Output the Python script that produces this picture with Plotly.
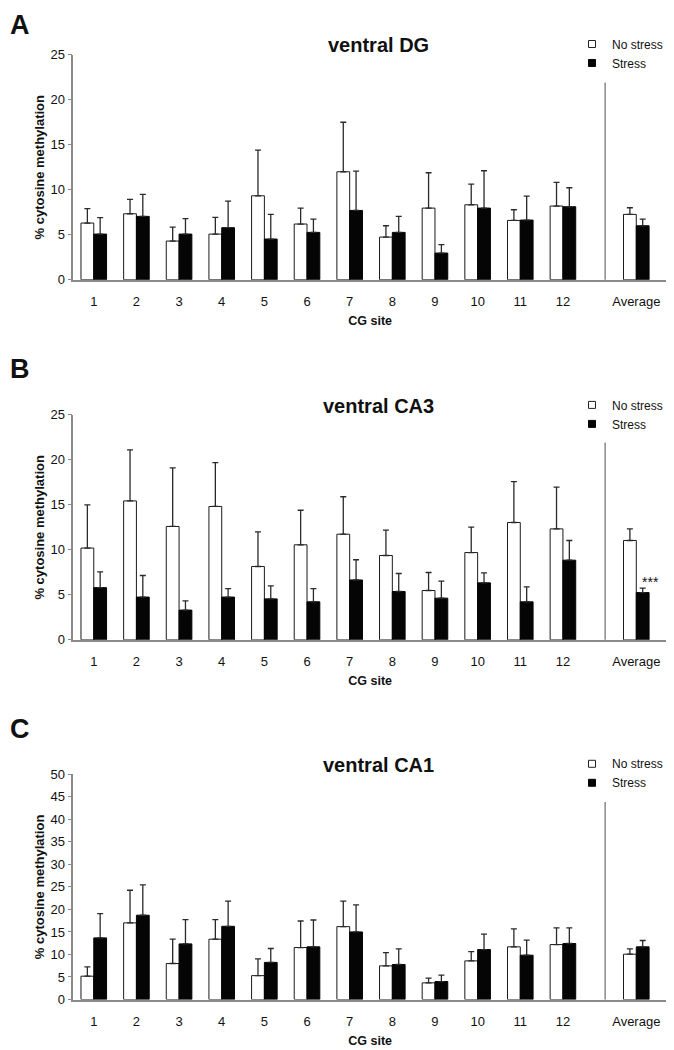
import plotly.graph_objects as go

# ---------------- data ----------------
sites = ["1", "2", "3", "4", "5", "6", "7", "8", "9", "10", "11", "12", "Average"]

dg_no_stress = [6.3, 7.33, 4.3, 5.07, 9.33, 6.19, 12.0, 4.74, 7.96, 8.33, 6.59, 8.19, 7.26]
dg_no_stress_sd = [1.6, 1.6, 1.55, 1.86, 5.07, 1.77, 5.5, 1.26, 3.93, 2.3, 1.19, 2.62, 0.74]
dg_stress = [5.07, 7.04, 5.07, 5.78, 4.52, 5.26, 7.7, 5.26, 2.96, 7.96, 6.63, 8.11, 6.0]
dg_stress_sd = [1.83, 2.44, 1.73, 2.96, 2.74, 1.48, 4.37, 1.78, 0.93, 4.15, 2.67, 2.11, 0.74]

ca3_no_stress = [10.2, 15.44, 12.6, 14.82, 8.15, 10.56, 11.74, 9.37, 5.48, 9.7, 13.04, 12.33, 11.04]
ca3_no_stress_sd = [4.8, 5.66, 6.5, 4.88, 3.85, 3.84, 4.16, 2.83, 2.0, 2.82, 4.55, 4.63, 1.29]
ca3_stress = [5.8, 4.75, 3.3, 4.75, 4.55, 4.22, 6.65, 5.37, 4.63, 6.33, 4.22, 8.85, 5.25]
ca3_stress_sd = [1.75, 2.4, 1.03, 0.95, 1.45, 1.48, 2.25, 2.0, 1.89, 1.11, 1.67, 2.19, 0.5]

ca1_no_stress = [5.18, 17.01, 7.99, 13.39, 5.3, 11.54, 16.18, 7.47, 3.7, 8.58, 11.69, 12.2, 10.06]
ca1_no_stress_sd = [2.07, 7.25, 5.4, 4.36, 3.74, 5.89, 5.66, 2.96, 1.03, 2.07, 3.99, 3.7, 1.18]
ca1_stress = [13.68, 18.71, 12.35, 16.25, 8.24, 11.69, 15.0, 7.77, 3.99, 11.09, 9.84, 12.43, 11.69]
ca1_stress_sd = [5.4, 6.73, 5.4, 5.59, 3.08, 5.96, 6.03, 3.47, 1.41, 3.41, 3.33, 3.47, 1.41]

panel_titles = ["ventral DG", "ventral CA3", "ventral CA1"]
panel_letters = ["A", "B", "C"]
y_max = [25, 25, 50]

# ---------------- layout helpers ----------------
# calibration from window pixels to figure pixels
OX, OY, SY = 7.0, 14.5, 0.986
W, H = 666, 1050
AVG_POS = 13.72          # "Average" sits apart from the 12 CG sites
SEP_POS = 12.99          # vertical separator between sites and average
x_pos = list(range(1, 13)) + [AVG_POS]


def px_x(p):
    return min(max((p - OX) / W, 0), 1)


def px_y(p):
    return min(max(1 - ((p - OY) / SY) / H, 0), 1)


FONT = "Liberation Sans, Arial, sans-serif"
AX_COLOR = "#8a8a8a"

# window-pixel geometry of each panel: (y of value 0, y of top value, title y, letter y)
panels_px = [
    (279.3, 54.3, 45, 25),
    (639.5, 414.5, 406, 369),
    (999.3, 774.0, 765, 729),
]
x_left, x_right = 72.3, 666.0

series = [
    (dg_no_stress, dg_no_stress_sd, dg_stress, dg_stress_sd),
    (ca3_no_stress, ca3_no_stress_sd, ca3_stress, ca3_stress_sd),
    (ca1_no_stress, ca1_no_stress_sd, ca1_stress, ca1_stress_sd),
]

fig = go.Figure()
layout = dict(
    width=W, height=H,
    margin=dict(l=0, r=0, t=0, b=0),
    paper_bgcolor="white", plot_bgcolor="white",
    barmode="group", bargap=0.4, bargroupgap=0,
    font=dict(family=FONT, size=13, color="#111"),
    shapes=[], annotations=[],
)

for i in range(3):
    sfx = "" if i == 0 else str(i + 1)
    xa, ya = "x" + sfx, "y" + sfx
    leg = "legend" + sfx
    no_m, no_sd, st_m, st_sd = series[i]
    y0_px, ytop_px, title_y, letter_y = panels_px[i]

    fig.add_trace(go.Bar(
        x=x_pos, y=no_m, name="No stress", xaxis=xa, yaxis=ya, showlegend=False,
        marker=dict(color="white", line=dict(color="#1a1a1a", width=1)),
        error_y=dict(type="data", symmetric=False, array=no_sd, arrayminus=[0] * len(no_sd),
                     color="#2a2a2a", thickness=1.3, width=3),
    ))
    fig.add_trace(go.Bar(
        x=x_pos, y=st_m, name="Stress", xaxis=xa, yaxis=ya, showlegend=False,
        marker=dict(color="#050505", line=dict(color="#050505", width=1)),
        error_y=dict(type="data", symmetric=False, array=st_sd, arrayminus=[0] * len(st_sd),
                     color="#2a2a2a", thickness=1.3, width=3),
    ))
    # legend entries with small square symbols
    fig.add_trace(go.Scatter(
        x=[None], y=[None], mode="markers", name="No stress", xaxis=xa, yaxis=ya,
        legend=leg, showlegend=True,
        marker=dict(symbol="square", size=7, color="white", line=dict(color="#222", width=1)),
    ))
    fig.add_trace(go.Scatter(
        x=[None], y=[None], mode="markers", name="Stress", xaxis=xa, yaxis=ya,
        legend=leg, showlegend=True,
        marker=dict(symbol="square", size=7, color="#050505", line=dict(color="#050505", width=1)),
    ))

    layout["xaxis" + sfx] = dict(
        domain=[px_x(x_left), px_x(x_right)], anchor=ya,
        range=[0.52, 14.44], tickmode="array", tickvals=x_pos, ticktext=sites,
        showline=True, linecolor=AX_COLOR, linewidth=1.5, ticks="",
        ticklabelstandoff=9, showgrid=False, zeroline=False,
        tickfont=dict(size=13, color="#111"),
        title=dict(text="<b>CG site</b>", font=dict(size=12.5, color="#111"), standoff=8),
    )
    layout["yaxis" + sfx] = dict(
        domain=[px_y(y0_px), px_y(ytop_px)], anchor=xa,
        range=[0, y_max[i]], dtick=5, tick0=0,
        showline=True, linecolor=AX_COLOR, linewidth=1.5,
        ticks="outside", ticklen=4, tickcolor=AX_COLOR, tickwidth=1,
        showgrid=False, zeroline=False,
        tickfont=dict(size=13, color="#111"),
        title=dict(text="<b>% cytosine methylation</b>", font=dict(size=13, color="#111"), standoff=3),
    )
    layout[leg] = dict(
        x=px_x(571), y=px_y(title_y - 16), xanchor="left", yanchor="top",
        bgcolor="rgba(0,0,0,0)", borderwidth=0,
        font=dict(size=12, color="#111"), itemwidth=30, tracegroupgap=0,
    )
    # separator line between sites and average
    layout["shapes"].append(dict(
        type="line", xref=xa, yref=ya + " domain", x0=SEP_POS, x1=SEP_POS, y0=0, y1=0.877,
        line=dict(color=AX_COLOR, width=1.5),
    ))
    # panel title
    layout["annotations"].append(dict(
        text="<b>" + panel_titles[i] + "</b>", xref="paper", yref="paper",
        x=px_x(377), y=px_y(title_y), xanchor="center", yanchor="middle",
        showarrow=False, font=dict(size=20, color="#111"),
    ))
    # panel letter
    layout["annotations"].append(dict(
        text="<b>" + panel_letters[i] + "</b>", xref="paper", yref="paper",
        x=0, y=px_y(letter_y), xanchor="left", yanchor="middle",
        showarrow=False, font=dict(size=27, color="#111"),
    ))

# significance marker on CA3 average (stress)
layout["annotations"].append(dict(
    text="***", xref="x2", yref="y2", x=AVG_POS, y=ca3_stress[-1] + ca3_stress_sd[-1],
    xshift=14, yshift=6, xanchor="center", yanchor="middle",
    showarrow=False, font=dict(size=14, color="#111"),
))

fig.update_layout(**layout)
fig.write_html("out.html")
